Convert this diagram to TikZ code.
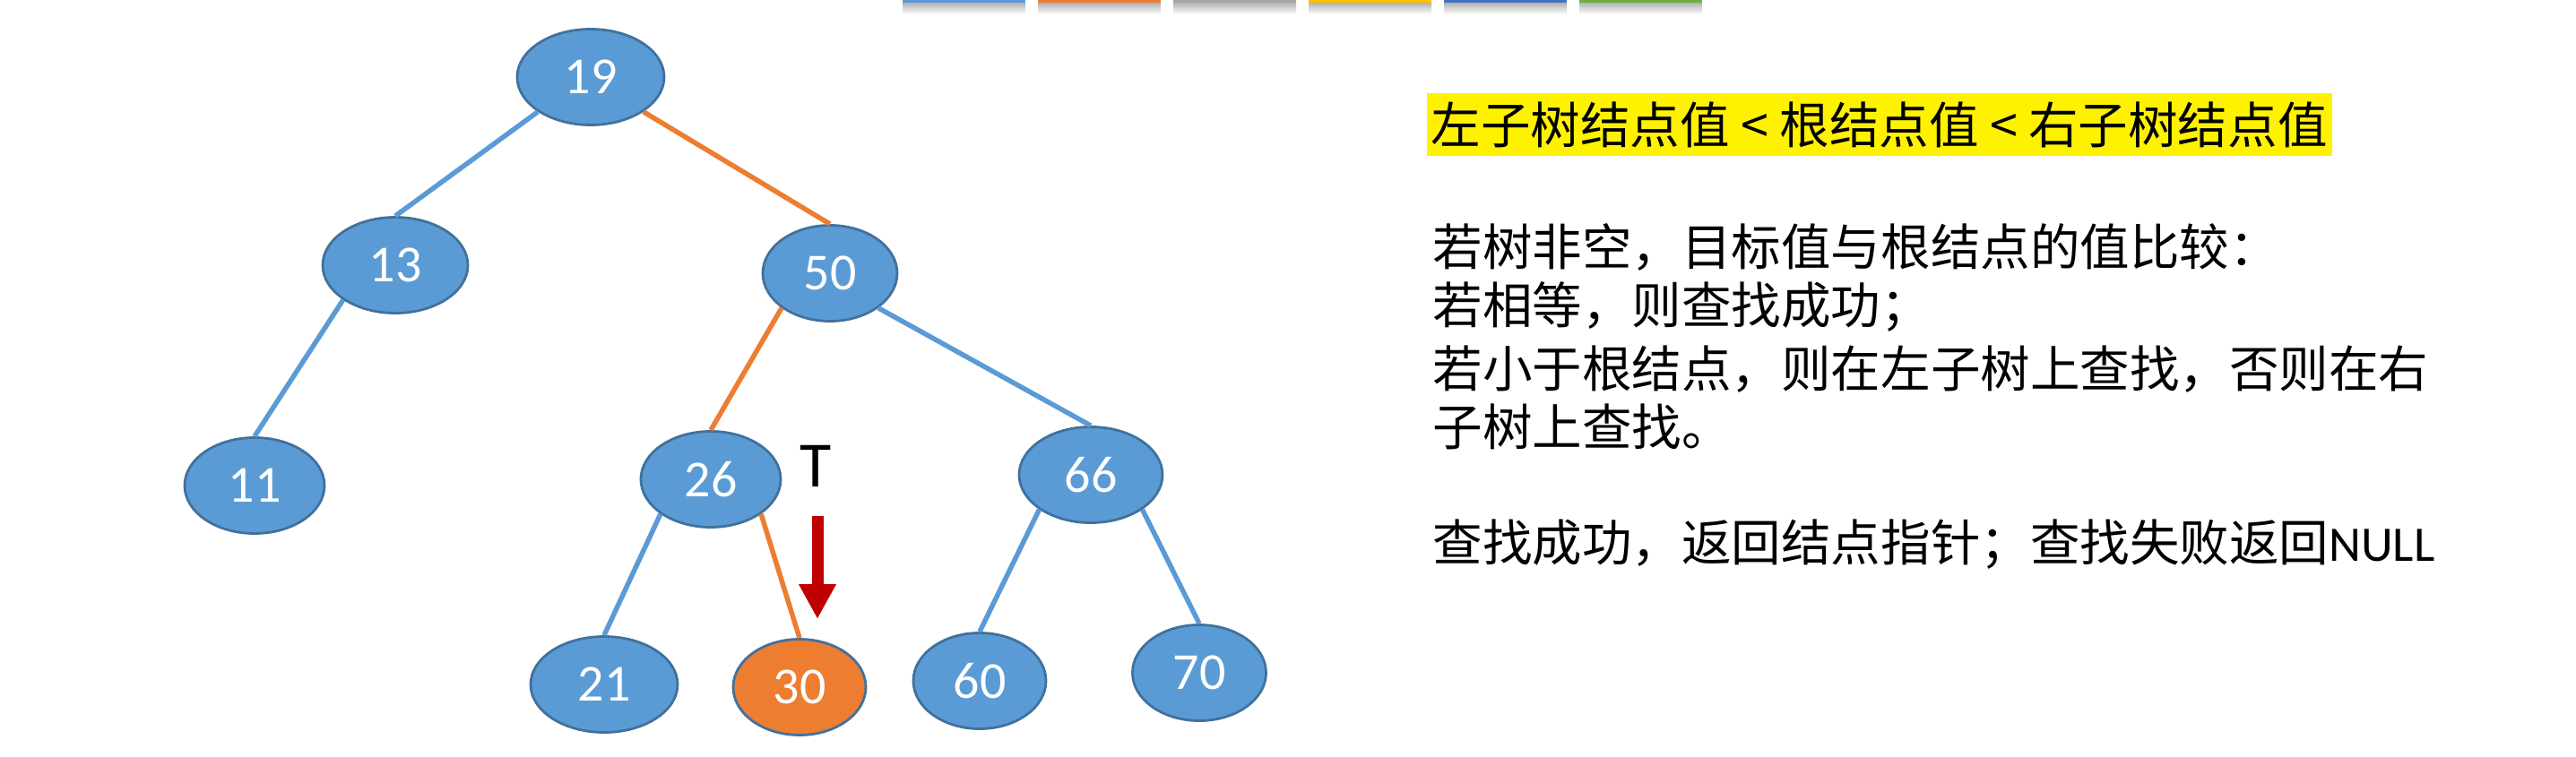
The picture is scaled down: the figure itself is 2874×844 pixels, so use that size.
\documentclass[tikz,border=0pt]{standalone}
\usepackage{fontspec}
\setmainfont{Carlito}
\newfontfamily\cjk{Noto Sans CJK SC}
\usetikzlibrary{arrows.meta,positioning,shapes.geometric}
\definecolor{nblue}{RGB}{91,155,213}
\definecolor{nrim}{RGB}{65,113,156}
\definecolor{norange}{RGB}{237,125,49}
\definecolor{darkred}{RGB}{192,0,0}
\definecolor{tabgray}{RGB}{165,165,165}
\definecolor{tabgold}{RGB}{255,192,0}
\definecolor{tabnavy}{RGB}{68,114,196}
\definecolor{tabgreen}{RGB}{112,173,71}

\begin{document}
\begin{tikzpicture}[x=0.1mm, y=-0.1mm,
num/.style={ellipse, draw=nrim, line width=0.8pt, fill=nblue, text=white, minimum width=15.6mm, minimum height=10.7mm, inner sep=0pt, font=\fontsize{16.5pt}{18pt}\selectfont},
hit/.style={num, fill=norange},
link/.style={line width=0.55mm, nblue},
route/.style={line width=0.55mm, norange},
txt/.style={anchor=west, inner sep=0pt, font=\cjk\fontsize{15.8pt}{19pt}\selectfont},
ptr/.style={-{Triangle[length=3.9mm, width=3.9mm]}, line width=1.3mm, darkred}]
\useasboundingbox (0,0) rectangle (2874,844);
\foreach \c [count=\i from 0] in {nblue,norange,tabgray,tabgold,tabnavy,tabgreen}{
  \shade[top color=black!30, bottom color=white] (1007+151*\i,3) rectangle (1144+151*\i,16);
  \fill[\c] (1007+151*\i,0) rectangle (1144+151*\i,3);
}
\node[num, minimum width=16.4mm] (n19) at (659,86) {19};
\node[num, minimum width=16.2mm] (n13) at (441,296) {13};
\node[num, minimum width=15.6mm] (n11) at (284,542) {11};
\node[num, minimum width=15mm] (n50) at (926,305) {50};
\node[num] (n26) at (793,535) {26};
\node[num, minimum width=16mm] (n66) at (1217,530) {66};
\node[num, minimum width=16.4mm] (n21) at (674,764) {21};
\node[hit, minimum width=14.8mm] (n30) at (892,767) {30};
\node[num, minimum width=14.8mm] (n60) at (1093,760) {60};
\node[num, minimum width=14.9mm] (n70) at (1338,751) {70};
\draw[link] (n19.south west) -- (n13.north);
\draw[route] (n19.south east) -- (n50.north);
\draw[link] (n13.south west) -- (n11.north);
\draw[route] (n50.south west) -- (n26.north);
\draw[link] (n50.south east) -- (n66.north);
\draw[link] (n26.south west) -- (n21.north);
\draw[route] (n26.south east) -- (n30.north);
\draw[link] (n66.south west) -- (n60.north);
\draw[link] (n66.south east) -- (n70.north);
\node[font=\fontsize{20.5pt}{24pt}\selectfont, inner sep=0pt] (T) at (910,520) {T};
\coordinate (tp) at (912,576);
\coordinate (tq) at (912,691);
\draw[ptr] (tp) -- (tq);
\node[txt, fill=yellow, inner xsep=0.5mm, minimum height=7mm] (rule) at (1591,139) {左子树结点值 < 根结点值 < 右子树结点值};
\node[txt] (s1) at (1598,276) {若树非空，目标值与根结点的值比较：};
\node[txt] (s2) at (1598,342) {若相等，则查找成功；};
\node[txt] (s3) at (1598,412) {若小于根结点，则在左子树上查找，否则在右};
\node[txt] (s4) at (1598,476) {子树上查找。};
\node[txt] (s5) at (1598,608) {查找成功，返回结点指针；查找失败返回{\normalfont NULL}};
\end{tikzpicture}
\end{document}
